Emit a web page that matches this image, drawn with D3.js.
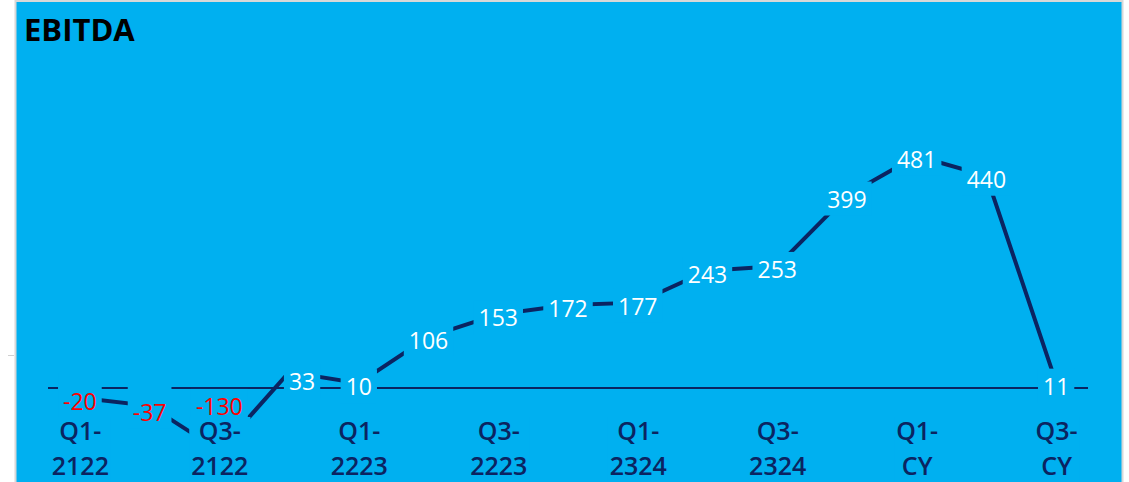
<!DOCTYPE html>
<html>
<head>
<meta charset="utf-8" />
<title>EBITDA</title>
<script src="https://d3js.org/d3.v7.min.js"></script>
<style>
  body { margin: 0; background: #fff; }
  text { font-family: "Open Sans", "Noto Sans", sans-serif; }
</style>
</head>
<body>
<div id="chart"></div>
<script>
// data
const quarters = ['Q1-2122', 'Q2-2122', 'Q3-2122', 'Q4-2122', 'Q1-2223', 'Q2-2223', 'Q3-2223', 'Q4-2223',
  'Q1-2324', 'Q2-2324', 'Q3-2324', 'Q4-2324', 'Q1-CY', 'Q2-CY', 'Q3-CY'];
const ebitda = [-20, -37, -130, 33, 10, 106, 153, 172, 177, 243, 253, 399, 481, 440, 11];
const tickLabels = ['Q1-2122', 'Q3-2122', 'Q1-2223', 'Q3-2223', 'Q1-2324', 'Q3-2324', 'Q1-CY', 'Q3-CY'];

const width = 1129;
const height = 482;
const bg = '#00B0F0';
const navy = '#0b2461';

// labels that got pushed aside to dodge the line
const labelNudge = { 'Q2-2122': [0, 6], 'Q4-2122': [13, 6] };

const svg = d3.select('#chart')
  .append('svg')
  .attr('width', width)
  .attr('height', height);

// card
svg.append('rect')
  .attr('x', 15.5).attr('y', 1)
  .attr('width', 1107).attr('height', 495)
  .attr('fill', bg)
  .attr('stroke', '#d8d8d8')
  .attr('stroke-width', 2);

svg.append('line')
  .attr('x1', 8).attr('x2', 14)
  .attr('y1', 355.5).attr('y2', 355.5)
  .attr('stroke', '#d0d0d0');

svg.append('text')
  .attr('x', 24)
  .attr('y', 41)
  .style('font-size', '31px')
  .style('font-weight', 700)
  .attr('fill', '#000')
  .text('EBITDA');

// scales
const x = d3.scalePoint()
  .domain(quarters)
  .range([45, 1091])
  .padding(0.5);

const y = d3.scaleLinear()
  .domain([0, 481])
  .range([388, 156]);

// zero line
svg.append('line')
  .attr('x1', 48).attr('x2', 1088)
  .attr('y1', y(0)).attr('y2', y(0))
  .attr('stroke', navy)
  .attr('stroke-width', 2);

// line
const line = d3.line()
  .x((d, i) => x(quarters[i]))
  .y(d => y(d));

svg.append('path')
  .datum(ebitda)
  .attr('d', line)
  .attr('fill', 'none')
  .attr('stroke', navy)
  .attr('stroke-width', 4);

// data labels with background boxes
const labels = svg.append('g')
  .selectAll('g')
  .data(ebitda)
  .enter()
  .append('g')
  .attr('transform', (d, i) => {
    const n = labelNudge[quarters[i]] || [0, 0];
    return `translate(${x(quarters[i]) + n[0]},${Math.min(y(d), y(0) + 15) + n[1]})`;
  });

labels.append('text')
  .attr('text-anchor', 'middle')
  .attr('dy', '0.52em')
  .style('font-size', '23px')
  .style('font-weight', 500)
  .attr('fill', d => d < 0 ? '#ff0000' : '#ffffff')
  .text(d => d);

labels.each(function (d) {
  const g = d3.select(this);
  const b = g.select('text').node().getBBox();
  // negative labels carry a taller box that hides the zero line above them
  const extra = d < 0 && d > -100 ? 10 : 0;
  g.insert('rect', 'text')
    .attr('x', b.x - 5).attr('y', b.y - 1 - extra)
    .attr('width', b.width + 10).attr('height', b.height + 2 + extra)
    .attr('fill', bg);
});

// x axis
const axis = svg.append('g')
  .attr('transform', 'translate(0,412)')
  .call(d3.axisBottom(x).tickValues(tickLabels).tickSize(0));

axis.select('.domain').remove();
axis.selectAll('text')
  .attr('y', 0)
  .attr('dy', null)
  .style('font-size', '25px')
  .style('font-weight', 600)
  .style('font-family', '"Open Sans", sans-serif')
  .attr('fill', navy)
  .each(function (d) {
    const t = d3.select(this);
    const parts = d.split('-');
    t.text(null);
    t.append('tspan').attr('x', 0).attr('y', 28).text(parts[0] + '-');
    t.append('tspan').attr('x', 0).attr('y', 63).text(parts[1]);
  });

axis.selectAll('.tick').each(function () {
  const g = d3.select(this);
  const b = g.select('text').node().getBBox();
  g.insert('rect', 'text')
    .attr('x', b.x - 2).attr('y', b.y + 4)
    .attr('width', b.width + 4).attr('height', b.height - 4)
    .attr('fill', bg);
});
</script>
</body>
</html>
